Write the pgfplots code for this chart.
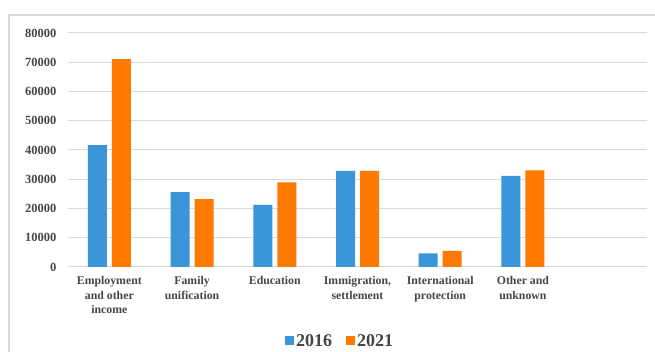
\documentclass[border=0pt]{standalone}
\usepackage{pgfplots}
\pgfplotsset{compat=1.18}
\usepackage{fontspec}
\setmainfont{Liberation Serif}
\definecolor{cA}{RGB}{58,150,216}
\definecolor{cB}{RGB}{255,122,0}
\definecolor{gridc}{RGB}{217,217,217}
\definecolor{txt}{RGB}{70,70,70}
\begin{document}
\begin{tikzpicture}[x=1pt,y=1pt]
\path[use as bounding box] (0,0) rectangle (655,352);
\fill[white] (0,0) rectangle (655,352);
\draw[gridc, line width=1.5pt] (9,337) rectangle (680,-20);
\begin{axis}[
  at={(68pt,85pt)}, anchor=south west,
  scale only axis, width=579pt, height=234pt,
  ybar=5pt, bar width=19pt,
  xmin=-0.5, xmax=6.5, ymin=0, ymax=80000,
  xtick={0,1,2,3,4,5},
  xticklabels={{Employment\\and other\\income},{Family\\unification},{Education},{Immigration,\\settlement},{International\\protection},{Other and\\unknown}},
  x tick label style={align=center, text=txt, font=\bfseries\fontsize{11.8}{14.5}\selectfont},
  xticklabel shift=6pt,
  ytick={0,10000,...,80000},
  y tick label style={text=txt, font=\bfseries\fontsize{12.5}{14}\selectfont},
  yticklabel shift=8pt,
  /pgf/number format/assume math mode=true,
  /pgf/number format/1000 sep={},
  scaled y ticks=false,
  major tick length=0pt,
  axis line style={draw=none},
  ymajorgrids, major grid style={gridc, line width=1pt},
  legend style={at={(0.47,-0.316)}, anchor=center, draw=none, fill=none,
    legend columns=2, text=txt, font=\bfseries\fontsize{18}{20}\selectfont,
    /tikz/every even column/.append style={column sep=12pt}},
  legend image code/.code={\fill[#1] (0pt,-4.5pt) rectangle (9pt,4.5pt);},
]
\addplot[fill=cA, draw=none] coordinates {(0,41700) (1,25600) (2,21200) (3,32900) (4,4650) (5,31150)};
\addplot[fill=cB, draw=none] coordinates {(0,71100) (1,23200) (2,28900) (3,32900) (4,5550) (5,33050)};
\legend{2016,2021}
\end{axis}
\end{tikzpicture}
\end{document}
